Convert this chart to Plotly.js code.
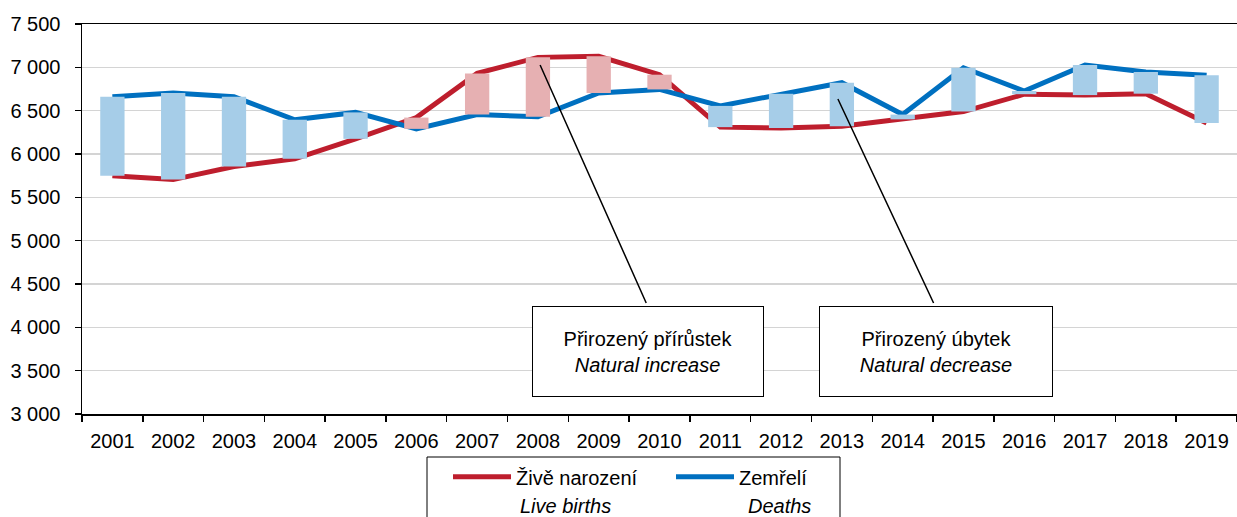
<!DOCTYPE html>
<html>
<head>
<meta charset="utf-8">
<script src="https://cdn.plot.ly/plotly-3.0.1.min.js"></script>
<style>html,body{margin:0;padding:0;background:#fff;}#chart{width:1237px;height:517px;}</style>
</head>
<body>
<div id="chart"></div>
<script>
// Data
const years = ['2001','2002','2003','2004','2005','2006','2007','2008','2009','2010','2011','2012','2013','2014','2015','2016','2017','2018','2019'];
const births = [5750, 5705, 5855, 5945, 6175, 6420, 6930, 7115, 7127, 6915, 6310, 6300, 6320, 6400, 6490, 6690, 6680, 6696, 6358];
const deaths = [6660, 6705, 6660, 6395, 6480, 6290, 6455, 6430, 6705, 6745, 6555, 6695, 6823, 6455, 6995, 6727, 7027, 6946, 6908];
const seriesNames = ['Živě narození', 'Zemřelí'];
const seriesNamesEn = ['Live births', 'Deaths'];
const calloutIncrease = ['Přirozený přírůstek', 'Natural increase'];
const calloutDecrease = ['Přirozený úbytek', 'Natural decrease'];

const RED = '#be1e2d', BLUE = '#0070c0', PINK = '#e6b0b2', LBLUE = '#a6cde8';
const FONT = 'Arial, "Liberation Sans", sans-serif';

const barBase = births.map((b, i) => Math.min(b, deaths[i]));
const barLen = births.map((b, i) => Math.abs(b - deaths[i]));
const barCol = births.map((b, i) => b >= deaths[i] ? PINK : LBLUE);

const traces = [
  {type:'scatter', mode:'lines', x:years, y:births, name:seriesNames[0],
   line:{color:RED, width:5}, xaxis:'x', yaxis:'y'},
  {type:'scatter', mode:'lines', x:years, y:deaths, name:seriesNames[1],
   line:{color:BLUE, width:5}, xaxis:'x', yaxis:'y'},
  {type:'bar', x:years, y:barLen, base:barBase, width:0.4, marker:{color:barCol, line:{width:0}},
   showlegend:false, hoverinfo:'skip', xaxis:'x2', yaxis:'y2'}
];

const W = 1155, H = 390, L = 82, T = 24;
const px = v => (v - L) / W;
const py = v => (T + H - v) / H;

const layout = {
  width:1237, height:517,
  margin:{l:L, r:0, t:T, b:517 - T - H, pad:0},
  paper_bgcolor:'#fff', plot_bgcolor:'#fff',
  font:{family:FONT, size:20, color:'#000'},
  separators:', ',
  showlegend:true,
  xaxis:{type:'category', categoryarray:years, range:[-0.5, 18.5], tickson:'boundaries',
         showgrid:false, showline:true, linecolor:'#000', linewidth:1.5, mirror:true,
         ticks:'outside', ticklen:6, tickcolor:'#000', tickwidth:1.5,
         tickfont:{size:20}, ticklabelstandoff:8, fixedrange:true},
  yaxis:{range:[3000, 7500], dtick:500, tick0:3000, showgrid:true, gridcolor:'#d4d4d4', gridwidth:1.5,
         showline:true, linecolor:'#000', linewidth:1.5, ticks:'outside', ticklen:6,
         tickcolor:'#000', tickwidth:1.5, separatethousands:true, tickformat:',d',
         tickfont:{size:20}, ticklabelstandoff:10, zeroline:false, fixedrange:true},
  xaxis2:{type:'category', categoryarray:years, range:[-0.5, 18.5], overlaying:'x', visible:false, fixedrange:true},
  yaxis2:{range:[3000, 7500], overlaying:'y', visible:false, fixedrange:true},
  legend:{orientation:'h', x:px(448), xanchor:'left', y:py(476.7), yanchor:'middle',
          bgcolor:'rgba(0,0,0,0)', borderwidth:0, font:{size:20, color:'#000'},
          itemwidth:58, entrywidth:150, entrywidthmode:'pixels', itemclick:false, itemdoubleclick:false},
  shapes:[
    {type:'rect', xref:'paper', yref:'paper', x0:px(427), x1:px(840), y0:py(457), y1:py(540),
     line:{color:'#000', width:1}, fillcolor:'rgba(0,0,0,0)', layer:'above'}
  ],
  annotations:[
    {xref:'paper', yref:'paper', x:px(518), y:py(506), xanchor:'left', yanchor:'middle',
     text:'<i>' + seriesNamesEn[0] + '</i>', showarrow:false, font:{size:20, color:'#000'}},
    {xref:'paper', yref:'paper', x:px(813), y:py(506), xanchor:'right', yanchor:'middle',
     text:'<i>' + seriesNamesEn[1] + '</i>', showarrow:false, font:{size:20, color:'#000'}},
    // callout boxes
    {xref:'paper', yref:'paper', x:px(648), y:py(351.5), xanchor:'center', yanchor:'middle',
     text:calloutIncrease[0] + '<br><i>' + calloutIncrease[1] + '</i>', showarrow:false,
     width:230, height:89, bgcolor:'#fff', bordercolor:'#000', borderwidth:1, borderpad:0,
     font:{size:20, color:'#000'}},
    {xref:'paper', yref:'paper', x:px(935.8), y:py(351), xanchor:'center', yanchor:'middle',
     text:calloutDecrease[0] + '<br><i>' + calloutDecrease[1] + '</i>', showarrow:false,
     width:232, height:89, bgcolor:'#fff', bordercolor:'#000', borderwidth:1, borderpad:0,
     font:{size:20, color:'#000'}},
    // pointer lines
    {xref:'x', yref:'y', x:7.036, y:7027, text:' ', showarrow:true, arrowhead:0, arrowwidth:1.5,
     arrowcolor:'#000', ax:107, ay:240, standoff:0, startstandoff:0, font:{size:1}},
    {xref:'x', yref:'y', x:11.935, y:6635, text:' ', showarrow:true, arrowhead:0, arrowwidth:1.5,
     arrowcolor:'#000', ax:96.6, ay:206, standoff:0, startstandoff:0, font:{size:1}}
  ]
};

Plotly.newPlot('chart', traces, layout, {displayModeBar:false, staticPlot:true});
</script>
</body>
</html>
